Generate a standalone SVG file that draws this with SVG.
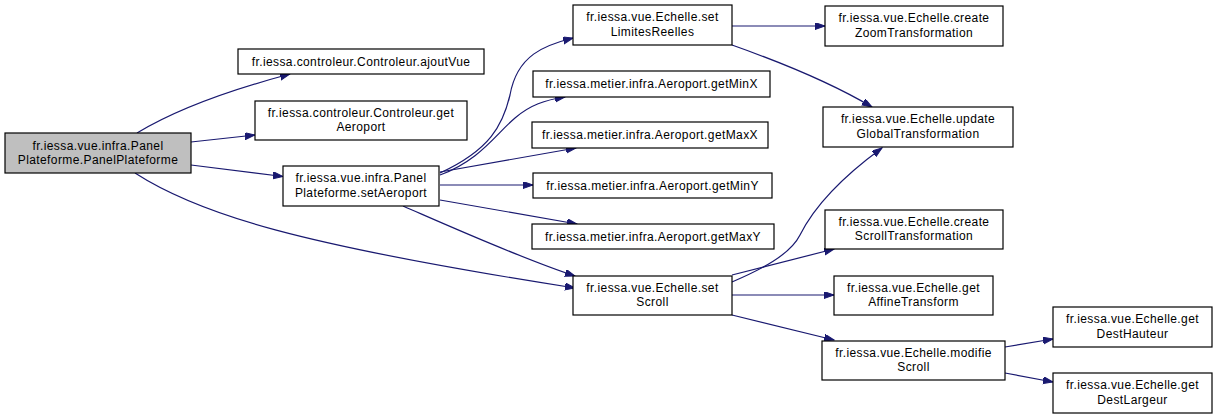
<svg xmlns="http://www.w3.org/2000/svg" width="1217" height="419" viewBox="0 0 1217 419">
<style>
.node rect{fill:#ffffff;stroke:#000000;stroke-width:1.2}
.node.main rect{fill:#bfbfbf}
.node text{font-family:"Liberation Sans",Arial,sans-serif;font-size:12px;letter-spacing:0.4px;fill:#000000;text-anchor:middle}
.edges path{fill:none;stroke:#191970;stroke-width:1.2;marker-end:url(#ah)}
</style>
<defs>
<marker id="ah" markerUnits="userSpaceOnUse" markerWidth="11" markerHeight="8" refX="10" refY="3.5" orient="auto">
<path d="M0,0 L10,3.5 L0,7 z" fill="#191970" stroke="#191970" stroke-width="1"/>
</marker>
</defs>
<rect width="1217" height="419" fill="#ffffff"/>
<g class="edges" id="connectors">
<path d="M137,133 C170,113 215,94 290,74"/>
<path d="M191,142 L255,135"/>
<path d="M191,165 L283,176.5"/>
<path d="M135,173 C200,215 300,245 575,288"/>
<path d="M440,173 C490,150 503,125 510,95 C517,55 545,45 573,38"/>
<path d="M440,175 C480,160 495,135 515,118 C530,105 545,100 565,97"/>
<path d="M440,172 C490,163 540,154 576,148"/>
<path d="M440,185 L533,185"/>
<path d="M440,200 L577,224"/>
<path d="M403,206 C440,222 520,258 575,276"/>
<path d="M732,26 L825,26"/>
<path d="M732,45 C780,62 835,85 872,107"/>
<path d="M732,282 C760,270 790,255 800,235 C815,205 845,175 882,148"/>
<path d="M732,275 L834,249"/>
<path d="M732,295 L834,295"/>
<path d="M732,315 L834,340"/>
<path d="M1005,347 L1053,339"/>
<path d="M1005,373 L1053,382"/>
</g>
<g class="node main" id="node-PanelPlateforme">
<rect x="5" y="133" width="186" height="40"/>
<text x="98" y="149.5">fr.iessa.vue.infra.Panel</text>
<text x="98" y="164">Plateforme.PanelPlateforme</text>
</g>
<g class="node" id="node-ajoutVue">
<rect x="238" y="49" width="246" height="25"/>
<text x="361" y="65.5">fr.iessa.controleur.Controleur.ajoutVue</text>
</g>
<g class="node" id="node-ctrlGetAeroport">
<rect x="255" y="101" width="212" height="39"/>
<text x="361" y="116.5">fr.iessa.controleur.Controleur.get</text>
<text x="361" y="131">Aeroport</text>
</g>
<g class="node" id="node-setAeroport">
<rect x="283" y="166" width="156" height="40"/>
<text x="361" y="182">fr.iessa.vue.infra.Panel</text>
<text x="361" y="196.5">Plateforme.setAeroport</text>
</g>
<g class="node" id="node-setLimitesReelles">
<rect x="573" y="5" width="159" height="40"/>
<text x="652.5" y="21">fr.iessa.vue.Echelle.set</text>
<text x="652.5" y="35.5">LimitesReelles</text>
</g>
<g class="node" id="node-getMinX">
<rect x="533" y="71" width="237" height="26"/>
<text x="651.5" y="88">fr.iessa.metier.infra.Aeroport.getMinX</text>
</g>
<g class="node" id="node-getMaxX">
<rect x="532" y="122" width="236" height="26"/>
<text x="650" y="139">fr.iessa.metier.infra.Aeroport.getMaxX</text>
</g>
<g class="node" id="node-getMinY">
<rect x="533" y="173" width="239" height="25"/>
<text x="652.5" y="189.5">fr.iessa.metier.infra.Aeroport.getMinY</text>
</g>
<g class="node" id="node-getMaxY">
<rect x="532" y="224" width="242" height="25"/>
<text x="653" y="240.5">fr.iessa.metier.infra.Aeroport.getMaxY</text>
</g>
<g class="node" id="node-setScroll">
<rect x="573" y="276" width="159" height="39"/>
<text x="652.5" y="291.5">fr.iessa.vue.Echelle.set</text>
<text x="652.5" y="306">Scroll</text>
</g>
<g class="node" id="node-createZoomTransformation">
<rect x="825" y="6" width="178" height="40"/>
<text x="914" y="22">fr.iessa.vue.Echelle.create</text>
<text x="914" y="36.5">ZoomTransformation</text>
</g>
<g class="node" id="node-updateGlobalTransformation">
<rect x="823" y="107" width="190" height="40"/>
<text x="918" y="123">fr.iessa.vue.Echelle.update</text>
<text x="918" y="137.5">GlobalTransformation</text>
</g>
<g class="node" id="node-createScrollTransformation">
<rect x="825" y="210" width="178" height="39"/>
<text x="914" y="225.5">fr.iessa.vue.Echelle.create</text>
<text x="914" y="240">ScrollTransformation</text>
</g>
<g class="node" id="node-getAffineTransform">
<rect x="834" y="276" width="159" height="39"/>
<text x="913.5" y="291.5">fr.iessa.vue.Echelle.get</text>
<text x="913.5" y="306">AffineTransform</text>
</g>
<g class="node" id="node-modifieScroll">
<rect x="822" y="341" width="183" height="39"/>
<text x="913.5" y="356.5">fr.iessa.vue.Echelle.modifie</text>
<text x="913.5" y="371">Scroll</text>
</g>
<g class="node" id="node-getDestHauteur">
<rect x="1053" y="307" width="159" height="40"/>
<text x="1132.5" y="323">fr.iessa.vue.Echelle.get</text>
<text x="1132.5" y="337.5">DestHauteur</text>
</g>
<g class="node" id="node-getDestLargeur">
<rect x="1053" y="373" width="159" height="40"/>
<text x="1132.5" y="389">fr.iessa.vue.Echelle.get</text>
<text x="1132.5" y="403.5">DestLargeur</text>
</g>
</svg>
